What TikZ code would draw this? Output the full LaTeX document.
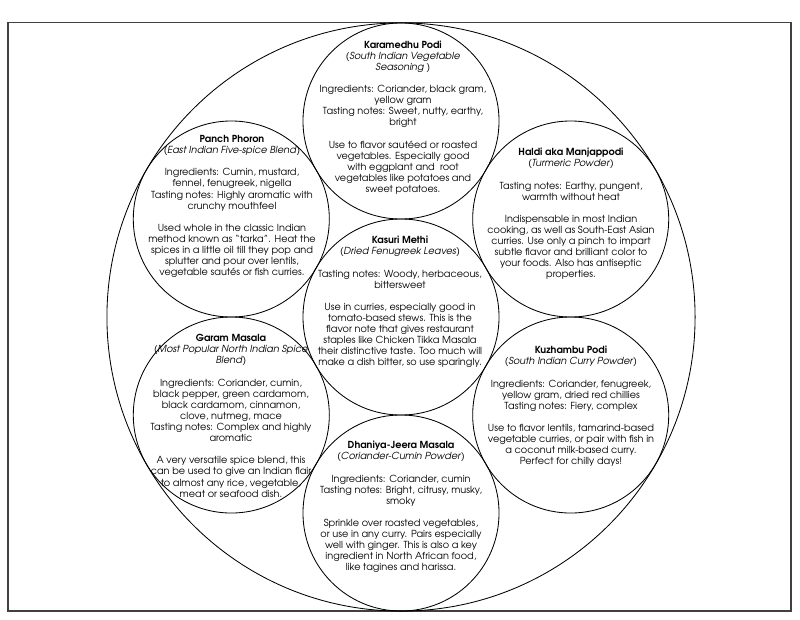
\documentclass[tikz,border=0pt]{standalone}
\usepackage{fontspec}
\setmainfont{texgyreadventor}[Extension=.otf, UprightFont=*-regular, BoldFont=*-bold, ItalicFont=*-italic, BoldItalicFont=*-bolditalic]
\usepackage{tikz}
\usetikzlibrary{positioning}

\newcommand{\gap}{\\[7.9pt]}

\begin{document}
\begin{tikzpicture}[x=0.025cm, y=-0.025cm,
  spice/.style={draw, circle, line width=0.6pt, minimum size=4.9cm, inner sep=0pt},
  spicetext/.style={align=center, inner sep=0pt, anchor=north, font=\fontsize{6.9}{7.9}\selectfont}]
\useasboundingbox (0,0) rectangle (800,619);

% Frame and plate
\node[draw=black!75, line width=1.2pt, rectangle, minimum width=19.56cm, minimum height=14.7cm, inner sep=0pt] (frame) at (399.5,316.7) {};
\node[draw, circle, line width=0.6pt, minimum size=14.7cm, inner sep=0pt] (plate) at (401,317) {};

% Spice circles
\node[spice] (karamedhu) at (401,121) {};
\node[spice] (panch) at (231.3,219) {};
\node[spice] (haldi) at (570.7,219) {};
\node[spice] (kasuri) at (401,317) {};
\node[spice] (garam) at (231.3,415) {};
\node[spice] (kuzhambu) at (570.7,415) {};
\node[spice] (dhaniya) at (401,513) {};

% Texts
\node[spicetext] (karamedhu-txt) at (403,40.5) {\textbf{Karamedhu Podi}\\ (\textit{South Indian Vegetable}\\ \textit{Seasoning} )\gap
Ingredients: Coriander, black gram,\\ yellow gram\\ Tasting notes: Sweet, nutty, earthy,\\ bright\gap
Use to flavor sautéed or roasted\\ vegetables. Especially good\\ with eggplant and~~root\\ vegetables like potatoes and\\ sweet potatoes.};

\node[spicetext] (panch-txt) at (232,135) {\textbf{Panch Phoron}\\ (\textit{East Indian Five-spice Blend})\gap
Ingredients: Cumin, mustard,\\ fennel, fenugreek, nigella\\ Tasting notes: Highly aromatic with\\ crunchy mouthfeel\gap
Used whole in the classic Indian\\ method known as “tarka”. Heat the\\ spices in a little oil till they pop and\\ splutter and pour over lentils,\\ vegetable sautés or fish curries.};

\node[spicetext] (haldi-txt) at (571,148) {\textbf{Haldi aka Manjappodi}\\ (\textit{Turmeric Powder})\gap
Tasting notes: Earthy, pungent,\\ warmth without heat\gap
Indispensable in most Indian\\ cooking, as well as South-East Asian\\ curries. Use only a pinch to impart\\ subtle flavor and brilliant color to\\ your foods. Also has antiseptic\\ properties.};

\node[spicetext] (kasuri-txt) at (400,236) {\textbf{Kasuri Methi}\\ (\textit{Dried Fenugreek Leaves})\gap
Tasting notes: Woody, herbaceous,\\ bittersweet\gap
Use in curries, especially good in\\ tomato-based stews. This is the\\ flavor note that gives restaurant\\ staples like Chicken Tikka Masala\\ their distinctive taste. Too much will\\ make a dish bitter, so use sparingly.};

\node[spicetext] (garam-txt) at (231,334) {\textbf{Garam Masala}\\ (\textit{Most Popular North Indian Spice}\\ \textit{Blend})\gap
Ingredients: Coriander, cumin,\\ black pepper, green cardamom,\\ black cardamom, cinnamon,\\ clove, nutmeg, mace\\ Tasting notes: Complex and highly\\ aromatic\gap
A very versatile spice blend, this\\ can be used to give an Indian flair\\ to almost any rice, vegetable,\\ meat or seafood dish.};

\node[spicetext] (kuzhambu-txt) at (571,346) {\textbf{Kuzhambu Podi}\\ (\textit{South Indian Curry Powder})\gap
Ingredients: Coriander, fenugreek,\\ yellow gram, dried red chillies\\ Tasting notes: Fiery, complex\gap
Use to flavor lentils, tamarind-based\\ vegetable curries, or pair with fish in\\ a coconut milk-based curry.\\ Perfect for chilly days!};

\node[spicetext] (dhaniya-txt) at (401,441) {\textbf{Dhaniya-Jeera Masala}\\ (\textit{Coriander-Cumin Powder})\gap
Ingredients: Coriander, cumin\\ Tasting notes: Bright, citrusy, musky,\\ smoky\gap
Sprinkle over roasted vegetables,\\ or use in any curry. Pairs especially\\ well with ginger. This is also a key\\ ingredient in North African food,\\ like tagines and harissa.};

\end{tikzpicture}
\end{document}
